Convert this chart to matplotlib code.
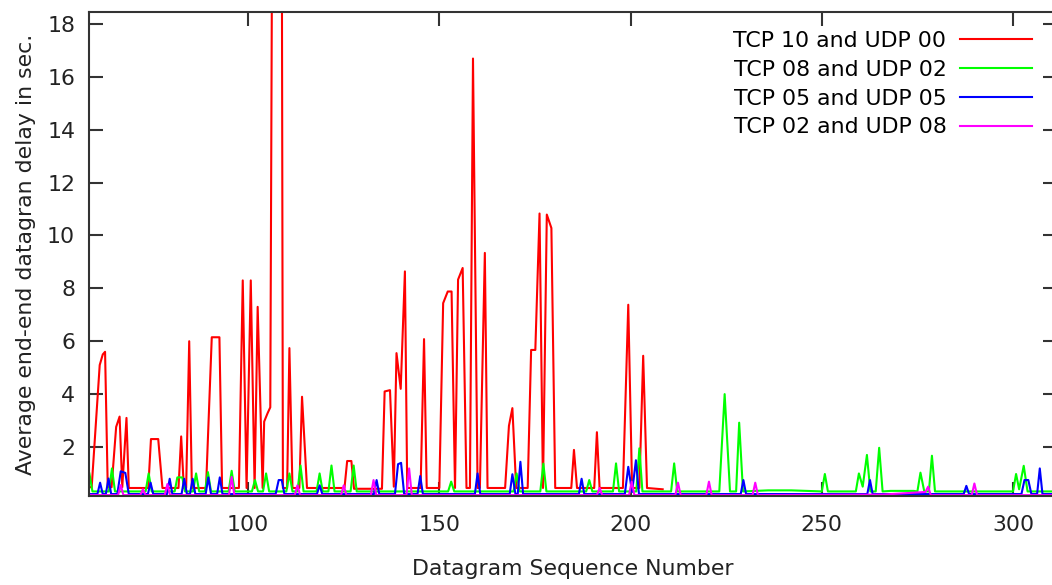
import matplotlib
matplotlib.use("Agg")
import matplotlib.pyplot as plt

plt.rcParams['font.family'] = ['DejaVu Sans']

# Series labels and colours (gnuplot default palette)
labels = ['TCP 10 and UDP 00', 'TCP 08 and UDP 02', 'TCP 05 and UDP 05', 'TCP 02 and UDP 08']
colors = ['#ff0000', '#00ff00', '#0000ff', '#ff00ff']

# TCP 10 / UDP 00 (red)
seq_tcp10 = [58.5, 59.1, 61.2, 62.0, 62.6, 63.3, 64.3, 65.5, 66.4, 67.1, 68.2, 68.8,
             73.9, 74.6, 76.5, 77.6, 81.8, 82.5, 83.2, 83.8, 84.6, 85.3,
             89.0, 90.5, 92.5, 93.2, 97.6, 98.6, 99.6, 100.7, 101.7, 102.5, 103.8,
             104.2, 105.1, 105.8, 106.5, 108.7, 109.1, 110.2, 110.8, 111.6,
             113.4, 114.1, 115.4, 125.2, 125.9, 127.0, 127.7, 135.0, 135.7, 137.1,
             138.1, 138.8, 139.9, 141.0, 141.6, 145.1, 146.0, 146.7,
             150.0, 151.0, 152.2, 153.2, 154.1, 154.9, 156.1, 157.1, 158.0, 158.8,
             160.0, 160.6, 161.9, 162.6, 167.2, 168.2, 169.1, 170.1,
             173.1, 174.0, 175.1, 176.2, 177.1, 178.1, 179.3, 180.3,
             184.5, 185.2, 186.0, 190.5, 191.2, 191.9, 198.0, 199.4, 200.4,
             202.3, 203.3, 204.3, 208.4]
delay_tcp10 = [0.48, 0.48, 5.1, 5.5, 5.6, 0.48, 0.48, 2.76, 3.15, 0.48, 3.1, 0.45,
               0.45, 2.3, 2.3, 0.45, 0.45, 2.4, 0.45, 0.45, 6.0, 0.45,
               0.45, 6.15, 6.15, 0.45, 0.45, 8.3, 0.45, 8.3, 0.45, 7.3, 0.45,
               2.96, 3.28, 3.5, 30.0, 30.0, 0.45, 0.45, 5.74, 0.45,
               0.45, 3.9, 0.45, 0.45, 1.47, 1.47, 0.42, 0.42, 4.1, 4.15,
               0.5, 5.55, 4.2, 8.64, 0.45, 0.45, 6.08, 0.45,
               0.45, 7.44, 7.88, 7.88, 0.45, 8.33, 8.77, 0.45, 0.45, 16.69,
               0.45, 0.45, 9.34, 0.45, 0.45, 2.8, 3.47, 0.45,
               0.45, 5.67, 5.67, 10.83, 0.45, 10.79, 10.28, 0.45,
               0.45, 1.89, 0.45, 0.45, 2.56, 0.45, 0.45, 7.38, 0.45,
               0.45, 5.45, 0.45, 0.4]

# TCP 08 / UDP 02 (green)
seq_tcp08 = [58.5, 59.3, 63.6, 64.4, 65.2, 73.2, 74.0, 74.8,
             80.8, 81.5, 82.8, 83.5, 85.6, 86.4, 87.2, 88.7, 89.5, 90.3,
             94.9, 95.7, 96.5, 101.0, 101.8, 102.6, 103.9, 104.7, 105.5,
             110.0, 110.8, 111.6, 112.9, 113.7, 114.5, 117.9, 118.7, 119.5,
             121.0, 121.8, 122.6, 126.8, 127.6, 128.4, 152.3, 153.1, 153.9,
             169.4, 170.2, 171.0, 176.4, 177.2, 178.0, 188.4, 189.2, 190.0,
             195.4, 196.2, 197.0, 201.5, 202.3, 203.1, 210.6, 211.4, 212.2,
             223.2, 224.6, 226.0, 227.6, 228.4, 229.4, 236.0, 242.0,
             250.0, 250.8, 251.6, 258.9, 259.7, 260.7, 261.8, 262.7,
             264.1, 265.0, 265.9, 268.0, 274.0, 275.0, 275.8, 276.8,
             278.0, 278.8, 279.6, 300.0, 300.8, 301.6, 302.8, 303.8, 310.6, 311.6]
delay_tcp08 = [1.0, 0.32, 0.32, 1.19, 0.32, 0.32, 1.0, 0.32,
               0.32, 0.85, 0.85, 0.32, 0.32, 1.0, 0.32, 0.32, 1.05, 0.32,
               0.32, 1.1, 0.32, 0.32, 0.75, 0.32, 0.32, 1.0, 0.32,
               0.32, 1.0, 0.32, 0.32, 1.3, 0.32, 0.32, 1.0, 0.32,
               0.32, 1.3, 0.32, 0.32, 1.3, 0.32, 0.32, 0.69, 0.32,
               0.32, 1.0, 0.32, 0.32, 1.37, 0.32, 0.32, 0.75, 0.32,
               0.32, 1.38, 0.32, 0.32, 1.95, 0.32, 0.32, 1.38, 0.32,
               0.32, 4.0, 0.32, 0.32, 2.92, 0.32, 0.36, 0.36,
               0.32, 0.98, 0.32, 0.32, 1.0, 0.5, 1.7, 0.32,
               0.32, 1.97, 0.32, 0.34, 0.34, 0.32, 1.03, 0.32,
               0.32, 1.67, 0.32, 0.32, 0.98, 0.4, 1.29, 0.32, 0.32, 1.0]

# TCP 05 / UDP 05 (blue)
seq_tcp05 = [58.5, 60.6, 61.3, 62.0, 62.8, 63.5, 64.2, 65.8, 66.7, 67.9, 68.8,
             73.8, 74.5, 75.2, 78.8, 79.5, 80.2, 82.6, 83.3, 84.0, 84.8, 85.5, 86.2,
             88.9, 89.6, 90.3, 91.9, 92.6, 93.3, 107.2, 108.0, 108.8, 109.5,
             118.0, 118.7, 119.4, 132.9, 133.6, 134.3, 138.4, 139.2, 140.0, 140.8,
             144.3, 145.0, 145.7, 159.3, 160.0, 160.7, 168.4, 169.1, 169.9, 170.5, 171.2, 171.9,
             186.5, 187.2, 187.9, 198.5, 199.4, 200.4, 201.4, 202.2,
             228.8, 229.5, 230.2, 261.9, 262.6, 263.3, 287.1, 287.8, 288.5,
             302.2, 303.0, 304.0, 304.8, 306.3, 307.0, 307.7, 311.6]
delay_tcp05 = [0.22, 0.22, 0.65, 0.22, 0.22, 0.81, 0.22, 0.22, 1.08, 1.02, 0.22,
               0.22, 0.65, 0.22, 0.22, 0.8, 0.22, 0.22, 0.8, 0.22, 0.22, 0.8, 0.22,
               0.22, 0.85, 0.22, 0.22, 0.85, 0.22, 0.22, 0.75, 0.75, 0.22,
               0.22, 0.55, 0.22, 0.22, 0.75, 0.22, 0.22, 1.35, 1.4, 0.22,
               0.22, 0.9, 0.22, 0.22, 1.0, 0.22, 0.22, 0.97, 0.22, 0.22, 1.44, 0.22,
               0.22, 0.8, 0.22, 0.22, 1.25, 0.3, 1.5, 0.22,
               0.22, 0.75, 0.22, 0.22, 0.75, 0.22, 0.22, 0.53, 0.22,
               0.22, 0.75, 0.75, 0.22, 0.22, 1.19, 0.22, 0.22]

# TCP 02 / UDP 08 (magenta)
seq_tcp02 = [58.5, 66.0, 66.7, 67.4, 71.8, 72.5, 73.2, 78.2, 78.9, 79.6,
             95.0, 95.7, 96.4, 112.2, 112.9, 113.6, 124.3, 125.0, 125.7,
             132.1, 132.8, 133.5, 141.4, 142.1, 142.8, 191.2, 191.9, 192.6,
             199.6, 200.3, 201.0, 211.7, 212.4, 213.1, 219.8, 220.5, 221.2,
             231.9, 232.6, 233.3, 266.0, 277.1, 277.8, 278.5,
             289.2, 289.9, 290.6, 311.6]
delay_tcp02 = [0.18, 0.18, 0.56, 0.18, 0.18, 0.4, 0.18, 0.18, 0.6, 0.18,
               0.18, 0.87, 0.18, 0.18, 0.55, 0.18, 0.18, 0.55, 0.18,
               0.18, 0.75, 0.18, 0.18, 1.19, 0.18, 0.18, 0.45, 0.18,
               0.18, 0.69, 0.18, 0.18, 0.65, 0.18, 0.18, 0.69, 0.18,
               0.18, 0.65, 0.18, 0.2, 0.3, 0.5, 0.18,
               0.18, 0.62, 0.18, 0.18]

series = [(seq_tcp10, delay_tcp10), (seq_tcp08, delay_tcp08),
          (seq_tcp05, delay_tcp05), (seq_tcp02, delay_tcp02)]

fig = plt.figure(figsize=(10.52, 5.85), dpi=100)
ax = fig.add_axes([89 / 1052, 89 / 585, 968 / 1052, 484 / 585])

for (xs, ys), lab, col in zip(series, labels, colors):
    ax.plot(xs, ys, color=col, lw=1.5, label=lab)

ax.set_xlim(58.4, 311.5)
ax.set_ylim(0.147, 18.45)
ax.set_xticks([100, 150, 200, 250, 300])
ax.set_yticks([2, 4, 6, 8, 10, 12, 14, 16, 18])

for s in ax.spines.values():
    s.set_color('#333333')
    s.set_linewidth(1.5)
ax.tick_params(axis='both', direction='in', length=10, width=1.5, color='#333333',
               top=True, right=True, labelsize=15.8, labelcolor='#222222')
ax.tick_params(axis='x', pad=14)
ax.tick_params(axis='y', pad=10)

ax.set_xlabel('Datagram Sequence Number', fontsize=15.8, color='#222222', labelpad=17)
ax.set_ylabel('Average end-end datagran delay in sec.', fontsize=15.8, color='#222222', labelpad=8)

ax.legend(loc='upper right', bbox_to_anchor=(1032 / 1052, (585 - 31) / 585),
          bbox_transform=fig.transFigure, frameon=False, markerfirst=False,
          fontsize=15.8, handlelength=3.3, handletextpad=0.6, labelspacing=0.4,
          borderpad=0, borderaxespad=0)

plt.savefig('out.png', dpi=100)
plt.close()
